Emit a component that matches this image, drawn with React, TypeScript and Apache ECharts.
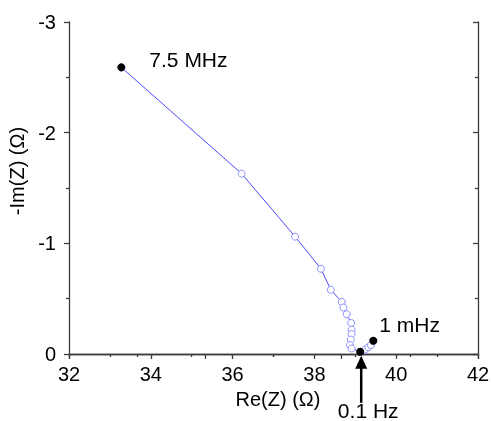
import React, { useEffect, useRef } from "react";
import * as echarts from "echarts";

// Nyquist data: Re(Z) in ohm, plotted -Im(Z) values (axis inverted)
const reZ = [33.28, 36.22, 37.53, 38.16, 38.4, 38.67, 38.71, 38.79, 38.9, 38.91, 38.91, 38.89, 38.87, 38.91, 39.12, 39.24, 39.32, 39.38, 39.44];
const imZ = [-2.59, -1.63, -1.06, -0.77, -0.58, -0.47, -0.42, -0.36, -0.28, -0.22, -0.18, -0.13, -0.08, -0.05, -0.02, -0.04, -0.06, -0.08, -0.12];

// Highlighted frequency points
const markedIndex = [0, 14, 18];
const markedLabels = ["7.5 MHz", "0.1 Hz", "1 mHz"];

const xTicks = { min: 32, max: 42, interval: 2 };
const yTicks = { min: -3, max: 0, interval: 1 };

const FONT = "Liberation Sans, Arial, sans-serif";
const AXIS_COLOR = "#3c3c3c";

export default function App() {
  const ref = useRef<HTMLDivElement>(null);

  useEffect(() => {
    if (!ref.current) return;
    const chart = echarts.init(ref.current, undefined, { renderer: "svg" });

    const lineData = reZ.map((x, i) => [x, imZ[i]]);
    const markedData = markedIndex.map((idx, k) => ({
      value: [reZ[idx], imZ[idx]],
      name: markedLabels[k],
    }));

    const baseAxisLine = { show: true, lineStyle: { color: AXIS_COLOR, width: 1.3 } };

    chart.setOption({
      animation: false,
      grid: { left: 69, right: 13, top: 22, bottom: 67, containLabel: false, outerBoundsMode: "none" },
      xAxis: [
        {
          type: "value",
          position: "bottom",
          min: xTicks.min,
          max: xTicks.max,
          interval: xTicks.interval,
          name: "Re(Z) (Ω)",
          nameLocation: "middle",
          nameGap: 35,
          nameTextStyle: { fontFamily: FONT, fontSize: 20, color: "#000", padding: [0, 0, 0, 9] },
          axisLine: baseAxisLine,
          axisTick: { show: true, inside: false, length: 5, lineStyle: { color: AXIS_COLOR, width: 1.3 } },
          minorTick: { show: true, splitNumber: 2, length: 3, lineStyle: { color: AXIS_COLOR, width: 1.3 } },
          axisLabel: { fontFamily: FONT, fontSize: 20, color: "#000", margin: 10 },
          splitLine: { show: false },
        },
        {
          type: "value",
          position: "top",
          min: 0,
          max: 6,
          interval: 2,
          axisLine: baseAxisLine,
          axisTick: { show: true, inside: true, length: 5, lineStyle: { color: AXIS_COLOR, width: 1.3 } },
          minorTick: { show: true, splitNumber: 2, length: 3, lineStyle: { color: AXIS_COLOR, width: 1.3 } },
          axisLabel: { show: false },
          splitLine: { show: false },
        },
      ],
      yAxis: [
        {
          type: "value",
          position: "left",
          min: yTicks.min,
          max: yTicks.max,
          interval: yTicks.interval,
          inverse: true,
          name: "-Im(Z) (Ω)",
          nameLocation: "middle",
          nameGap: 42,
          nameTextStyle: { fontFamily: FONT, fontSize: 20, color: "#000", padding: [0, 0, 0, 34] },
          axisLine: baseAxisLine,
          axisTick: { show: true, inside: false, length: 5, lineStyle: { color: AXIS_COLOR, width: 1.3 } },
          minorTick: { show: true, splitNumber: 2, length: 3, lineStyle: { color: AXIS_COLOR, width: 1.3 } },
          axisLabel: { fontFamily: FONT, fontSize: 20, color: "#000", margin: 13 },
          splitLine: { show: false },
        },
        {
          type: "value",
          position: "right",
          min: yTicks.min,
          max: yTicks.max,
          interval: yTicks.interval,
          inverse: true,
          axisLine: baseAxisLine,
          axisTick: { show: true, inside: true, length: 5, lineStyle: { color: AXIS_COLOR, width: 1.3 } },
          minorTick: { show: true, splitNumber: 2, length: 3, lineStyle: { color: AXIS_COLOR, width: 1.3 } },
          axisLabel: { show: false },
          splitLine: { show: false },
        },
      ],
      series: [
        {
          type: "line",
          xAxisIndex: 0,
          yAxisIndex: 0,
          data: lineData,
          symbol: "circle",
          symbolSize: 7,
          showAllSymbol: true,
          lineStyle: { color: "#4a4aff", width: 1 },
          itemStyle: { color: "#ffffff", borderColor: "#8f8fff", borderWidth: 1 },
          z: 2,
        },
        {
          type: "scatter",
          xAxisIndex: 0,
          yAxisIndex: 0,
          data: markedData,
          symbol: "circle",
          symbolSize: 8,
          itemStyle: { color: "#000", opacity: 1 },
          z: 3,
          label: {
            show: true,
            fontFamily: FONT,
            fontSize: 21,
            color: "#000",
            formatter: (p: any) => (p.name === "0.1 Hz" ? "" : p.name),
            position: "right",
          },
          labelLayout: (params: any) => {
            const name = markedLabels[params.dataIndex];
            if (name === "7.5 MHz") return { dx: 19, dy: -8 };
            if (name === "1 mHz") return { dx: -3, dy: -16 };
            return {};
          },
        },
      ],
    });

    const p = chart.convertToPixel({ xAxisIndex: 0, yAxisIndex: 0 }, [reZ[markedIndex[1]], imZ[markedIndex[1]]]) as number[];
    if (p) {
      const ax = p[0] + 1;
      const tipY = p[1] + 4;
      chart.setOption({
        graphic: [
          {
            type: "line",
            shape: { x1: ax, y1: tipY + 10, x2: ax, y2: tipY + 47 },
            style: { stroke: "#000", lineWidth: 2.5 },
          },
          {
            type: "polygon",
            shape: { points: [[ax, tipY], [ax - 6, tipY + 13], [ax + 6, tipY + 13]] },
            style: { fill: "#000" },
          },
          {
            type: "text",
            x: ax + 7,
            y: 410,
            style: {
              text: markedLabels[1],
              fontFamily: FONT,
              fontSize: 21,
              fill: "#000",
              align: "center",
              verticalAlign: "middle",
            },
          },
        ],
      });
    }

    return () => chart.dispose();
  }, []);

  return <div ref={ref} style={{ position: "fixed", left: 0, top: 0, width: 491, height: 421 }} />;
}
